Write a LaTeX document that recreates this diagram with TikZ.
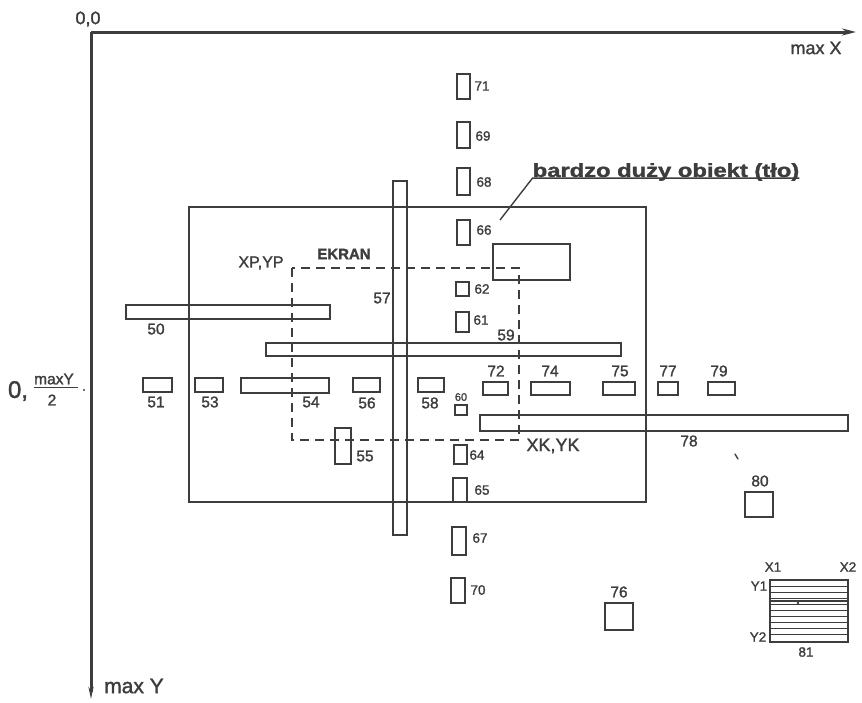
\documentclass[tikz,border=0pt]{standalone}
\usepackage{fontspec}
\setmainfont[FakeBold=1.5]{Liberation Sans}
\usetikzlibrary{arrows.meta}
\definecolor{ink}{gray}{0.24}
\begin{document}
\begin{tikzpicture}[x=1pt,y=-1pt,
  obj/.style={draw=ink,line width=1.6pt},
  axis/.style={draw=ink,line width=3pt},
  ekran/.style={draw=ink,line width=1.6pt,dash pattern=on 9pt off 6pt},
  lab/.style={text=ink,inner sep=0pt,font=\fontsize{15.5}{15.5}\selectfont},
  sml/.style={text=ink,inner sep=0pt,font=\fontsize{13.5}{13.5}\selectfont},
  big/.style={text=ink,inner sep=0pt,font=\fontsize{18}{18}\selectfont},
  bold/.style={text=ink,inner sep=0pt,font=\bfseries\fontsize{15}{15}\selectfont}]
\useasboundingbox (0,0) rectangle (862,702);
% axes
\coordinate (O) at (91,32);
\coordinate (XE) at (856,32);
\coordinate (YE) at (91,699);
\draw[axis,-{Stealth[length=14pt,width=7pt]}] (O) -- (XE);
\draw[axis,-{Stealth[length=12pt,width=5pt]}] (O) -- (YE);
\node[big] (l00) at (88,19) {0,0};
\node[big] (lmaxx) at (816,48) {max X};
\node[text=ink,inner sep=0pt,font=\fontsize{21}{21}\selectfont] (lmaxy) at (134,686) {max Y};
% 0, maxY/2
\node[text=ink,inner sep=0pt,font=\fontsize{24}{24}\selectfont] (lzero) at (18,391) {0,};
\node[lab] (lmy) at (54,379) {maxY};
\node[lab] (ltwo) at (52,400) {2};
\draw[ink,line width=1.3pt] (lmy.south west) ++(0,3) -- ++(44,0);
\coordinate (tick) at (84,390);
\fill[ink] (tick) circle (1.2pt);
% big object (background)
\draw[obj] (189,207) rectangle (646,502);
\draw[obj] (493,244) rectangle (570,280);
\node[text=ink,inner sep=0pt,font=\bfseries\fontsize{19}{19}\selectfont] (ltlo) at (666,172) {\scalebox{1.25}[1]{bardzo duży obiekt (tło)}};
\coordinate (lead) at (500,220);
\draw[ink,line width=1.4pt] (ltlo.south east) ++(0,-3) coordinate (ue) -- (ue -| ltlo.south west) coordinate (us) -- (lead);
% screen
\draw[ekran] (292,268) rectangle (519,440);
\node[lab,font=\fontsize{16}{16}\selectfont] (lxp) at (261,263) {XP,YP};
\node[bold] (lek) at (344,254) {EKRAN};
\node[big] (lxk) at (553,446) {XK,YK};
% long bars
\draw[obj] (393,181) rectangle (407,535);
\node[lab] (l57) at (382,298) {57};
\draw[obj] (126,305) rectangle (330,319);
\node[lab] (l50) at (156,329) {50};
\draw[obj] (266,343) rectangle (621,356);
\node[lab] (l59) at (506,335) {59};
\draw[obj] (480,415) rectangle (848,431);
\node[lab] (l78) at (689,441) {78};
\draw[obj] (241,378) rectangle (329,393);
\node[lab] (l54) at (311,402) {54};
% row of small objects
\draw[obj] (143,378) rectangle (172,392); \node[lab] (l51) at (156,402) {51};
\draw[obj] (195,378) rectangle (223,392); \node[lab] (l53) at (210,402) {53};
\draw[obj] (353,378) rectangle (380,392); \node[lab] (l56) at (367,403) {56};
\draw[obj] (418,378) rectangle (444,392); \node[lab] (l58) at (430,403) {58};
\draw[obj] (455,405) rectangle (467,415); \node[text=ink,inner sep=0pt,font=\fontsize{11}{11}\selectfont] (l60) at (461,397) {60};
\draw[obj] (483,382) rectangle (508,395); \node[lab] (l72) at (496,371) {72};
\draw[obj] (531,382) rectangle (570,395); \node[lab] (l74) at (550,371) {74};
\draw[obj] (603,382) rectangle (635,395); \node[lab] (l75) at (620,371) {75};
\draw[obj] (658,382) rectangle (678,395); \node[lab] (l77) at (668,371) {77};
\draw[obj] (708,382) rectangle (735,395); \node[lab] (l79) at (719,371) {79};
% column of small objects
\draw[obj] (457,74) rectangle (470,99);   \node[sml] (l71) at (482,86) {71};
\draw[obj] (457,122) rectangle (470,148); \node[sml] (l69) at (483,136) {69};
\draw[obj] (457,168) rectangle (470,195); \node[sml] (l68) at (484,182) {68};
\draw[obj] (457,220) rectangle (470,245); \node[sml] (l66) at (484,230) {66};
\draw[obj] (456,282) rectangle (469,296); \node[sml] (l62) at (482,289) {62};
\draw[obj] (456,312) rectangle (469,332); \node[sml] (l61) at (481,320) {61};
\draw[obj] (454,445) rectangle (467,464); \node[sml] (l64) at (477,455) {64};
\draw[obj] (453,478) rectangle (467,502); \node[sml] (l65) at (482,490) {65};
\draw[obj] (452,527) rectangle (466,555); \node[sml] (l67) at (480,538) {67};
\draw[obj] (451,578) rectangle (465,603); \node[sml] (l70) at (478,590) {70};
% other objects
\draw[obj] (335,428) rectangle (351,464); \node[lab] (l55) at (365,456) {55};
\draw[obj] (745,492) rectangle (773,517); \node[lab] (l80) at (760,481) {80};
\draw[obj] (605,603) rectangle (633,630); \node[lab] (l76) at (619,592) {76};
\draw[ink,line width=1.3pt,line cap=round] (735,454) -- (738,459);
% object 81 (hatched)
\draw[obj] (770,580) rectangle (848,642);
\foreach \yy in {586,592,...,637} \draw[ink,line width=1pt] (770,\yy) -- (848,\yy);
\draw[ink,line width=1.4pt] (770,601) -- (848,601);
\fill[ink] (798,603) circle (1.3pt);
\node[sml] (lx1) at (773,567) {X1};
\node[sml] (lx2) at (848,567) {X2};
\node[sml] (ly1) at (759,586) {Y1};
\node[sml] (ly2) at (758,637) {Y2};
\node[sml] (l81) at (806,652) {81};
\end{tikzpicture}
\end{document}
